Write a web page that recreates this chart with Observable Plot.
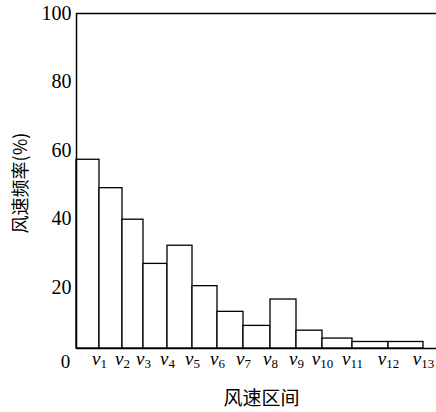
<!DOCTYPE html>
<html><head><meta charset="utf-8">
<script src="https://cdn.jsdelivr.net/npm/d3@7"></script>
<script src="https://cdn.jsdelivr.net/npm/@observablehq/plot@0.6"></script>
<style>body{margin:0;background:#fff}</style>
</head><body><div id="chart"></div>
<script>
// wind-speed intervals (bar i spans edge[i]..edge[i+1], label v_i at its right edge)
const intervals = ["v1","v2","v3","v4","v5","v6","v7","v8","v9","v10","v11","v12","v13"];
const edges = [0, 23, 46, 67, 91, 116, 141, 167, 194, 220, 246, 276, 312, 347];
const freq = [57.3, 49.0, 39.8, 26.9, 32.2, 20.4, 12.9, 8.8, 16.5, 7.4, 5.1, 4.1, 4.1];
const yTicks = [20, 40, 60, 80, 100];
const xEnd = 360;
const yMin = 2.2, yMax = 100;
const yTitle = "风速频率(%)";
const xTitle = "风速区间";

const data = freq.map((f, i) => ({x1: edges[i], x2: edges[i + 1], f, label: intervals[i]}));
const serif = "'Liberation Serif', 'Times New Roman', serif";
const cjk = "'Noto Sans CJK SC', sans-serif";

const plot = Plot.plot({
  width: 436, height: 412,
  marginLeft: 76, marginRight: 0, marginTop: 13, marginBottom: 64,
  style: {fontFamily: serif, fontSize: "20px", color: "#000", background: "#fff", overflow: "visible"},
  x: {domain: [0, xEnd], axis: null},
  y: {domain: [yMin, yMax], axis: null},
  marks: [
    Plot.rectY(data, {x1: "x1", x2: "x2", y1: yMin, y2: "f", fill: "#fff", stroke: "#000", strokeWidth: 1.3}),
    Plot.ruleY([yMin], {stroke: "#000", strokeWidth: 1.5}),
    Plot.ruleY([yMax], {stroke: "#000", strokeWidth: 1.5}),
    Plot.ruleX([0], {stroke: "#000", strokeWidth: 1.5}),
    Plot.axisY({ticks: yTicks, tickSize: 0, tickPadding: 5, label: null, fontSize: 20}),
    Plot.text(data, {x: "x2", text: "label", frameAnchor: "bottom", lineAnchor: "middle", dy: 10, fontSize: 19}),
    Plot.text(["0"], {x: edges[0], text: d => d, frameAnchor: "bottom", lineAnchor: "middle", dx: -11, dy: 13, fontSize: 19}),
    Plot.text([yTitle], {frameAnchor: "left", text: d => d, textAnchor: "middle", lineAnchor: "middle", rotate: -90, dx: -55, dy: 2, fontSize: 18, fontFamily: cjk}),
    Plot.text([xTitle], {frameAnchor: "bottom", text: d => d, textAnchor: "middle", lineAnchor: "middle", dx: 5, dy: 50, fontSize: 19, fontFamily: cjk})
  ]
});
document.getElementById("chart").appendChild(plot);

// italic v with subscript index
d3.select(plot).selectAll("text").each(function() {
  const t = this.textContent;
  if (!/^v\d+$/.test(t)) return;
  const el = d3.select(this);
  el.text("");
  el.append("tspan").attr("font-style", "italic").text("v");
  el.append("tspan").attr("font-size", 13).attr("dy", "0.3em").text(t.slice(1));
});
</script></body></html>
